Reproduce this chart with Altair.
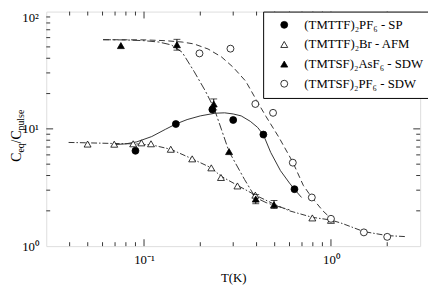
import altair as alt
import pandas as pd

# ---------------- data ----------------
series_names = ["(TMTTF)₂PF₆ - SP", "(TMTTF)₂Br - AFM",
                "(TMTSF)₂AsF₆ - SDW", "(TMTSF)₂PF₆ - SDW"]

sp_T = [0.09, 0.148, 0.232, 0.30, 0.435, 0.638]
sp_C = [6.5, 11.0, 14.6, 11.9, 8.94, 3.06]

afm_T = [0.0499, 0.0693, 0.0875, 0.0968, 0.109, 0.139, 0.181, 0.229,
         0.258, 0.316, 0.394, 0.795, 1.0]
afm_C = [7.42, 7.40, 7.46, 7.6, 7.46, 6.7, 5.55, 4.65,
         3.85, 3.26, 2.72, 1.74, 1.66]

asf6_T = [0.0752, 0.150, 0.236, 0.285, 0.396, 0.496]
asf6_C = [51.3, 52.2, 16.3, 6.4, 2.52, 2.25]

pf6_T = [0.198, 0.29, 0.394, 0.49, 0.625, 0.79, 1.0, 1.5, 2.0]
pf6_C = [44, 48.3, 16.3, 13.7, 5.15, 2.6, 1.71, 1.31, 1.2]

err_T = [0.150, 0.236, 0.396, 0.496]
err_lo = [46.9, 14.5, 2.3, 2.1]
err_hi = [58, 18, 2.75, 2.45]

fit_asf6_T = [0.0604, 0.08, 0.1, 0.12, 0.14, 0.16, 0.185, 0.213, 0.237,
              0.26, 0.285, 0.345, 0.394, 0.45, 0.5, 0.6]
fit_asf6_C = [57.6, 57.3, 56.5, 55.0, 52.0, 45.0, 31.0, 21.0, 15.0,
              9.8, 6.4, 3.7, 2.6, 2.35, 2.22, 2.04]

fit_pf6_T = [0.0604, 0.1, 0.13, 0.16, 0.185, 0.22, 0.26, 0.3, 0.35, 0.4,
             0.45, 0.526, 0.625, 0.711, 0.79, 0.905, 1.06]
fit_pf6_C = [57.6, 57.4, 56.5, 55.0, 53.0, 48.0, 41.0, 33.5, 25.5, 17.5,
             12.7, 8.5, 5.2, 3.3, 2.6, 2.0, 1.58]

fit_sp_T = [0.07, 0.08, 0.0915, 0.11, 0.13, 0.148, 0.17, 0.2, 0.24, 0.27,
            0.3, 0.331, 0.37, 0.405, 0.435, 0.476, 0.537, 0.6, 0.638, 0.696]
fit_sp_C = [7.35, 7.45, 7.75, 8.6, 9.9, 11.0, 12.0, 12.9, 13.6, 13.7,
            13.4, 12.9, 11.6, 10.3, 8.9, 6.3, 4.4, 3.45, 3.05, 2.6]

fit_afm_T = [0.0395, 0.05, 0.07, 0.09, 0.11, 0.139, 0.181, 0.229, 0.258,
             0.316, 0.394, 0.5, 0.6, 0.795, 1.0, 1.15, 1.5, 2.0, 2.52]
fit_afm_C = [7.66, 7.6, 7.5, 7.45, 7.3, 6.7, 5.55, 4.65, 3.95,
             3.3, 2.72, 2.27, 2.0, 1.76, 1.67, 1.56, 1.33, 1.23, 1.205]

x_major = [0.1, 1.0]
x_minor = [0.04, 0.05, 0.06, 0.07, 0.08, 0.09,
           0.2, 0.3, 0.4, 0.5, 0.6, 0.7, 0.8, 0.9, 2.0]
y_labels = [1, 10, 100]
y_major = [10.0]
y_minor = [2, 3, 4, 5, 6, 7, 8, 9, 20, 30, 40, 50, 60, 70, 80, 90]

# ---------------- build tables ----------------
pts = pd.concat([
    pd.DataFrame({"T": sp_T, "C": sp_C, "s": series_names[0]}),
    pd.DataFrame({"T": afm_T, "C": afm_C, "s": series_names[1]}),
    pd.DataFrame({"T": asf6_T, "C": asf6_C, "s": series_names[2]}),
    pd.DataFrame({"T": pf6_T, "C": pf6_C, "s": series_names[3]}),
], ignore_index=True)

err = pd.DataFrame({"T": err_T, "lo": err_lo, "hi": err_hi})

W, H = 381, 239
FONT = "Liberation Serif"
xscale = alt.Scale(type="log", domain=[0.03, 3], nice=False)
yscale = alt.Scale(type="log", domain=[1, 100], nice=False)

xaxis = alt.Axis(values=x_major, ticks=False, domain=False, grid=False,
                 labelExpr="datum.value < 0.5 ? '10⁻¹' : '10⁰'",
                 labelFont=FONT, labelFontSize=13, labelColor="black",
                 labelPadding=8, title="T(K)", titleFont=FONT,
                 titleFontSize=13, titleFontWeight="normal", titleColor="black",
                 titleBaseline="alphabetic", titleY=36)
yaxis = alt.Axis(values=y_labels, ticks=False, domain=False, grid=False,
                 labelExpr="datum.value < 5 ? '10⁰' : (datum.value < 50 ? '10¹' : '10²')",
                 labelBaseline={"condition": {"test": "datum.value > 50",
                                              "value": "top"},
                                "value": "middle"},
                 labelFont=FONT, labelFontSize=13, labelColor="black",
                 labelPadding=8, title="")


def X(field):
    return alt.X(field, scale=xscale, axis=xaxis, title="T(K)")


def Y(field):
    return alt.Y(field, scale=yscale, axis=yaxis, title="")


def fit_line(Ts, Cs, dash):
    df = pd.DataFrame({"T": Ts, "C": Cs, "o": list(range(len(Ts)))})
    kw = dict(color="#333333", strokeWidth=1)
    if dash:
        kw["strokeDash"] = dash
    return alt.Chart(df).mark_line(**kw).encode(
        x=X("T:Q"), y=Y("C:Q"), order="o:Q")


lines = [
    fit_line(fit_sp_T, fit_sp_C, None),
    fit_line(fit_afm_T, fit_afm_C, [6, 2, 1.5, 2]),
    fit_line(fit_asf6_T, fit_asf6_C, [8, 2.5, 2, 2.5]),
    fit_line(fit_pf6_T, fit_pf6_C, [6, 3.5]),
]

err_rules = alt.Chart(err).mark_rule(color="black", strokeWidth=1).encode(
    x=X("T:Q"), y=Y("lo:Q"), y2="hi:Q")
cap_hi = alt.Chart(err).mark_tick(orient="horizontal", size=7, thickness=1,
                                  color="black").encode(
    x=X("T:Q"), y=Y("hi:Q"))
cap_lo = alt.Chart(err).mark_tick(orient="horizontal", size=7, thickness=1,
                                  color="black").encode(
    x=X("T:Q"), y=Y("lo:Q"))

leg = alt.Legend(title=None, orient="none", legendX=221, legendY=0,
                 strokeColor="black", fillColor="white", padding=7,
                 symbolOffset=8, labelOffset=14, rowPadding=6,
                 symbolSize=50, symbolStrokeWidth=0.8,
                 labelFont=FONT, labelFontSize=13, labelColor="black",
                 cornerRadius=0)

points = alt.Chart(pts).mark_point(filled=True, strokeWidth=0.8,
                                   opacity=1).encode(
    x=X("T:Q"), y=Y("C:Q"),
    shape=alt.Shape("s:N", scale=alt.Scale(
        domain=series_names,
        range=["circle", "triangle-up", "triangle-up", "circle"]), legend=leg),
    fill=alt.Fill("s:N", scale=alt.Scale(
        domain=series_names, range=["black", "white", "black", "white"]),
        legend=leg),
    stroke=alt.Stroke("s:N", scale=alt.Scale(
        domain=series_names, range=["black", "black", "black", "black"]),
        legend=leg),
    size=alt.value(50))


def tick_layer(vals, axis_ch, side, length):
    df = pd.DataFrame({"v": vals})
    m = alt.Chart(df).mark_rule(color="black", strokeWidth=0.8)
    if axis_ch == "x":
        enc = dict(x=X("v:Q"))
        if side == "bottom":
            enc.update(y=alt.value(H), y2=alt.value(H - length))
        else:
            enc.update(y=alt.value(0), y2=alt.value(length))
    else:
        enc = dict(y=Y("v:Q"))
        if side == "left":
            enc.update(x=alt.value(0), x2=alt.value(length))
        else:
            enc.update(x=alt.value(W), x2=alt.value(W - length))
    return m.encode(**enc)


ticks = [
    tick_layer(x_major, "x", "bottom", 7), tick_layer(x_minor, "x", "bottom", 4),
    tick_layer(x_major, "x", "top", 7), tick_layer(x_minor, "x", "top", 4),
    tick_layer(y_major, "y", "left", 7), tick_layer(y_minor, "y", "left", 4),
    tick_layer(y_major, "y", "right", 7), tick_layer(y_minor, "y", "right", 4),
]

# y-axis title pieces (C_eq / C_pulse), rotated
one = pd.DataFrame({"a": [0]})


def title_piece(txt, xv, yv, fs):
    return alt.Chart(one).mark_text(angle=270, align="left",
                                    baseline="alphabetic", font=FONT,
                                    fontSize=fs, color="black").encode(
        text=alt.value(txt), x=alt.value(xv), y=alt.value(yv))


XM, XS = -26, -23
Y0 = 153
ytitle = [
    title_piece("C", XM, Y0, 14),
    title_piece("eq", XS, Y0 - 9.3, 10),
    title_piece("/", XM, Y0 - 18.7, 14),
    title_piece("C", XM, Y0 - 22.6, 14),
    title_piece("pulse", XS, Y0 - 31.9, 10),
]

chart = alt.layer(*lines, err_rules, points, cap_hi, cap_lo, *ticks, *ytitle).properties(
    width=W, height=H,
    autosize=alt.AutoSizeParams(type="none"),
    padding={"left": 39, "top": 1, "right": 8, "bottom": 40},
).configure_view(stroke="black", strokeWidth=1).configure(background="white")

chart.save("out.html", embed_options={"renderer": "svg", "actions": False})
